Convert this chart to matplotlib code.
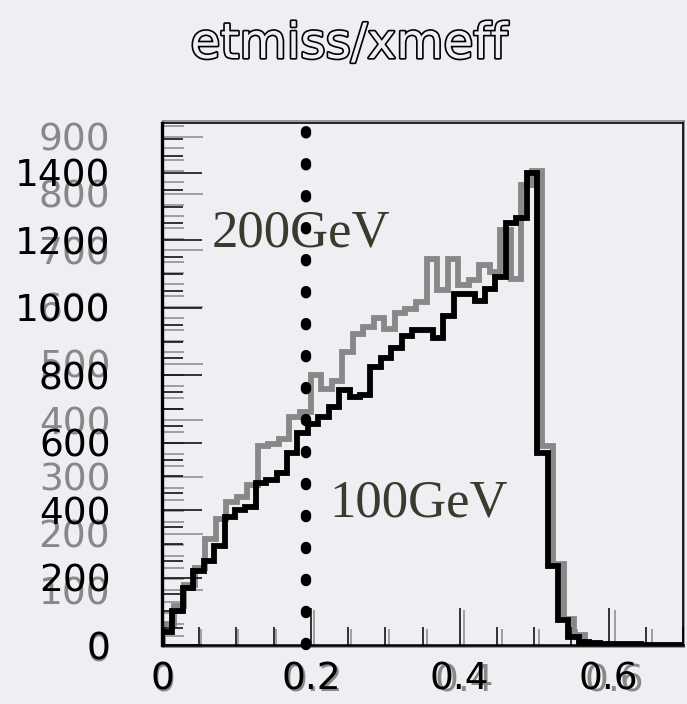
import numpy as np
import matplotlib
matplotlib.use('Agg')
import matplotlib.pyplot as plt
import matplotlib.patheffects as pe
from matplotlib.ticker import MultipleLocator

# etmiss/xmeff, 50 bins on 0..0.7
bin_edges = np.linspace(0.0, 0.7, 51)

# black histogram (100GeV), left scale 0..1400
black_counts = [40, 100, 170, 220, 250, 295, 380, 400, 410, 480,
                490, 510, 570, 630, 655, 675, 705, 755, 735, 740,
                825, 850, 880, 915, 935, 935, 910, 975, 1040, 1040,
                1020, 1055, 1090, 1250, 1265, 1400, 570, 235, 75, 25,
                8, 5, 4, 3, 2, 2, 1, 1, 1, 1]

# gray histogram (200GeV), second scale 0..900
gray_counts = [40, 72, 110, 140, 190, 225, 255, 265, 285, 355,
               358, 367, 405, 414, 480, 455, 470, 520, 552, 565,
               580, 561, 590, 596, 608, 684, 630, 684, 638, 647,
               674, 661, 735, 650, 815, 840, 354, 146, 49, 21,
               6, 4, 3, 2, 2, 1, 1, 1, 1, 1]

black_yticks = [0, 200, 400, 600, 800, 1000, 1200, 1400]
gray_yticks = [0, 100, 200, 300, 400, 500, 600, 700, 800, 900]
xticks = [0, 0.2, 0.4, 0.6]
xtick_labels = ['0', '0.2', '0.4', '0.6']

cut_x = 0.194
labels_text = ['200GeV', '100GeV']

BG = '#efeff3'
GRAY = '#888888'
TEXT_DARK = '#3a3a2e'

W, H = 687, 704
fig = plt.figure(figsize=(W / 100, H / 100), dpi=100)
fig.patch.set_facecolor(BG)


def rect(left, top, right, bottom):
    return [left / W, 1 - bottom / H, (right - left) / W, (bottom - top) / H]


# gray axes underneath, black axes on top (ROOT-style overlay)
axg = fig.add_axes(rect(163, 121, 684, 647))
ax = fig.add_axes(rect(162, 123, 683, 645))
axg.set_facecolor(BG)
ax.patch.set_visible(False)

axg.stairs(gray_counts, bin_edges, color=GRAY, lw=4.2, baseline=0)
axg.set_xlim(0, 0.692)
axg.set_ylim(0, 928)

ax.stairs(black_counts, bin_edges, color='black', lw=4.2, baseline=0)
ax.set_xlim(0, 0.7)
ax.set_ylim(0, 1548)

tick_font = dict(fontsize=27, family='DejaVu Sans')

for a, col, yt, ymin, ypad in [(axg, GRAY, gray_yticks, 20, 38),
                               (ax, 'black', black_yticks, 50, 37)]:
    a.set_yticks(yt)
    a.set_yticklabels([str(v) for v in yt], color=col, **tick_font)
    a.yaxis.set_minor_locator(MultipleLocator(ymin))
    a.set_xticks(xticks)
    a.set_xticklabels(xtick_labels, color=col, **tick_font)
    a.xaxis.set_minor_locator(MultipleLocator(0.05))
    a.tick_params(axis='both', which='both', direction='in', color=col,
                  width=1.1, top=False, right=False)
    a.tick_params(axis='y', which='major', length=29, pad=ypad)
    a.tick_params(axis='y', which='minor', length=15)
    a.tick_params(axis='x', which='major', length=27, pad=12)
    a.tick_params(axis='x', which='minor', length=13)
    for s in a.spines.values():
        s.set_color(col)
        s.set_linewidth(1.2)
ax.spines['left'].set_linewidth(2.4)
ax.spines['bottom'].set_linewidth(1.8)

# dotted cut line
ax.plot([cut_x, cut_x], [0, 1608], color='black', lw=7.5,
        ls=(0, (0.2, 2.87)), dash_capstyle='round', clip_on=False, zorder=5)

serif = dict(fontsize=38, family='Liberation Serif', color=TEXT_DARK)
ax.text(0.067, 1181, labels_text[0], ha='left', va='baseline', **serif)
ax.text(0.225, 380, labels_text[1], ha='left', va='baseline', **serif)

fig.text(349 / W, 1 - 58 / H, 'etmiss/xmeff', ha='center', va='baseline',
         fontsize=35, family='DejaVu Sans', color=BG,
         path_effects=[pe.Stroke(linewidth=2.4, foreground='black'), pe.Normal()])

fig.savefig('out.png', dpi=100, facecolor=BG)
